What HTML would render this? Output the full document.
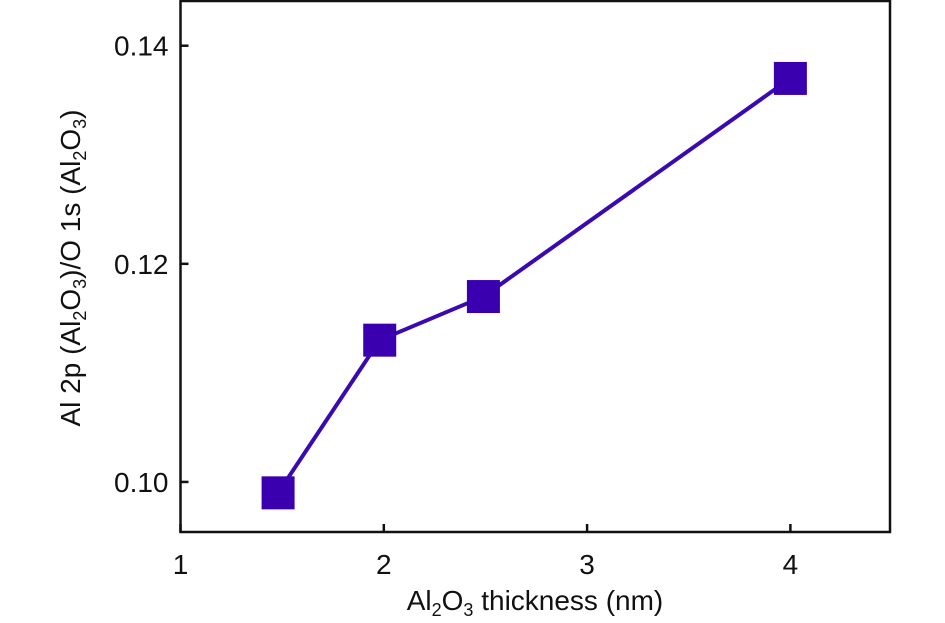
<!DOCTYPE html>
<html><head><meta charset="utf-8"><style>
html,body{margin:0;padding:0;background:#fff;}
svg{display:block;font-family:"Liberation Sans","DejaVu Sans",sans-serif;}
</style></head><body>
<svg id="chart" width="945" height="623" viewBox="0 0 945 623">
<g id="plot"></g>
</svg>
<script>
const xValues = [1.48, 1.98, 2.49, 4];
const yValues = [0.099, 0.113, 0.117, 0.137];
const xTicks = [1, 2, 3, 4];
const yTicks = [0.10, 0.12, 0.14];
const yTickLabels = ["0.10", "0.12", "0.14"];

const L=180.5, R=890, T=1, B=532;
const xMin=1, xMax=4.49, yMin=0.09541, yMax=0.1441;
const sx = v => L + (v-xMin)/(xMax-xMin)*(R-L);
const sy = v => B - (v-yMin)/(yMax-yMin)*(B-T);
const NS="http://www.w3.org/2000/svg";
const g=document.getElementById('plot');
function mk(tag, attrs, parent){const e=document.createElementNS(NS,tag);for(const k in attrs)e.setAttribute(k,attrs[k]);(parent||g).appendChild(e);return e;}

const frame=mk('rect',{x:L,y:T,width:R-L,height:B-T,fill:'none',stroke:'#111','stroke-width':2.5});



xTicks.forEach(t=>{
  const x=sx(t);
  const tk=mk('line',{x1:x,x2:x,y1:B,y2:B-8,stroke:'#111','stroke-width':2.5});
  
  
  const lb=mk('text',{x:x,y:B+42,'text-anchor':'middle','font-size':28,fill:'#111'});
  lb.textContent=t;
  
  
});
yTicks.forEach((t,i)=>{
  const y=sy(t);
  const tk=mk('line',{x1:L,x2:L+8,y1:y,y2:y,stroke:'#111','stroke-width':2.5});
  
  
  const lb=mk('text',{x:L-12,y:y+10,'text-anchor':'end','font-size':28,fill:'#111'});
  lb.textContent=yTickLabels[i];
  
  
});

const pts=xValues.map((v,i)=>sx(v)+','+sy(yValues[i])).join(' ');
const line=mk('polyline',{points:pts,fill:'none',stroke:'#3a0ab0','stroke-width':4});


xValues.forEach((v,i)=>{
  const m=mk('rect',{x:sx(v)-16.5,y:sy(yValues[i])-16.5,width:33,height:33,fill:'#3a00b0'});
  
  
});
</script>
<svg style="position:absolute;left:0;top:0" width="945" height="623">
<text x="535" y="610" text-anchor="middle" font-size="28" fill="#111" font-family="Liberation Sans, sans-serif">Al<tspan font-size="18" dy="6">2</tspan><tspan dy="-6">O</tspan><tspan font-size="18" dy="6">3</tspan><tspan dy="-6"> thickness (nm)</tspan></text>
<text transform="translate(80,268) rotate(-90)" text-anchor="middle" font-size="28" fill="#111" font-family="Liberation Sans, sans-serif">Al 2p (Al<tspan font-size="18" dy="6">2</tspan><tspan dy="-6">O</tspan><tspan font-size="18" dy="6">3</tspan><tspan dy="-6">)/O 1s (Al</tspan><tspan font-size="18" dy="6">2</tspan><tspan dy="-6">O</tspan><tspan font-size="18" dy="6">3</tspan><tspan dy="-6">)</tspan></text>
</svg>
</body></html>
